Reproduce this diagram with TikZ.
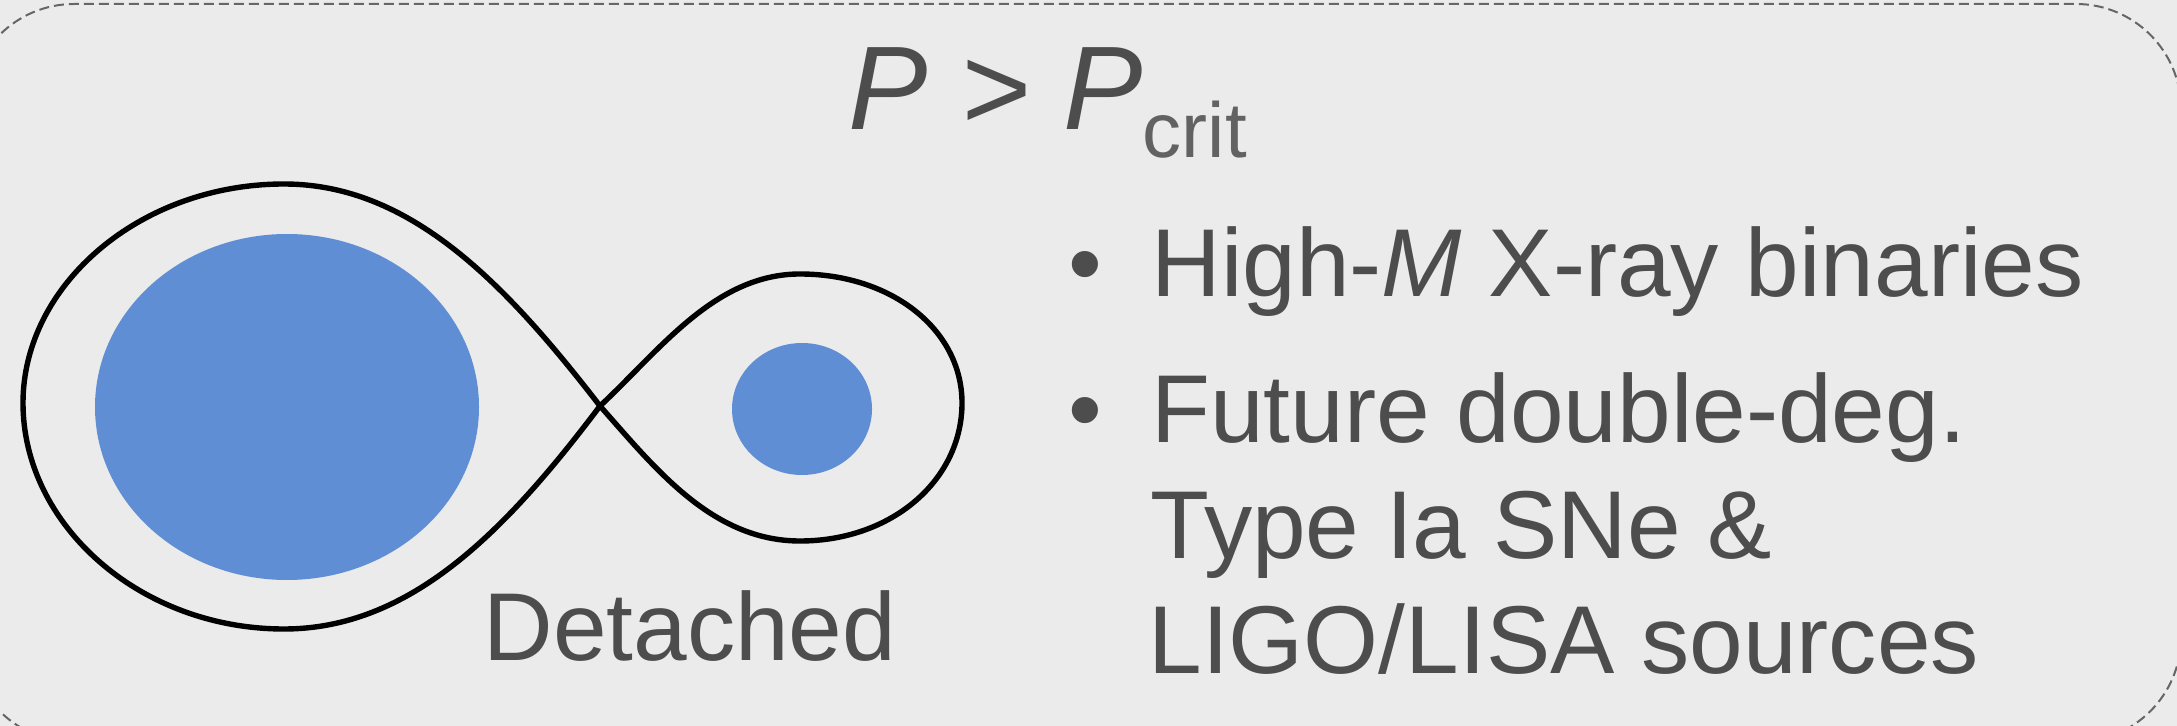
\documentclass[tikz,border=0pt]{standalone}
\usepackage{fontspec}
\setmainfont{Liberation Sans}
\definecolor{panelgray}{HTML}{EBEBEB}
\definecolor{framegray}{HTML}{666666}
\definecolor{inkgray}{HTML}{4D4D4D}
\definecolor{critgray}{HTML}{626262}
\definecolor{starblue}{HTML}{5F8ED5}
\tikzset{
  label text/.style={anchor=base west, inner sep=0pt, text=inkgray,
    font=\fontsize{48.2pt}{58pt}\selectfont},
  lobe/.style={draw=black, line width=2.7pt, line join=round},
  star/.style={fill=starblue, draw=none},
  frame/.style={draw=framegray, line width=1pt, dash pattern=on 5pt off 2.5pt,
    fill=panelgray, rounded corners=52.5pt}
}
\begin{document}
\begin{tikzpicture}[x=0.5pt, y=-0.5pt]
  % page area and background
  \useasboundingbox (0,0) rectangle (2177,726);
  \fill[panelgray] (0,0) rectangle (2177,726);
  \draw[frame] (-31,4) rectangle (2181,742);

  % title
  \node[anchor=base west, inner sep=0pt, text=inkgray] (title) at (848,130)
    {\fontsize{59.5pt}{60pt}\selectfont\itshape P > P\raisebox{-14pt}{\fontsize{39pt}{40pt}\selectfont\upshape\color{critgray}crit}};

  % stars
  \fill[star] (287,407) ellipse [x radius=192, y radius=173];
  \fill[star] (802,409) ellipse [x radius=70, y radius=66];

  % Roche lobes (figure eight through the inner Lagrange point)
  \coordinate (L1) at (600,406);
  \coordinate (lt) at (284,184);
  \coordinate (ll) at (23,403);
  \coordinate (lb) at (284,629);
  \coordinate (rt) at (800,274);
  \coordinate (rr) at (962,403);
  \coordinate (rb) at (800,541);
  \draw[lobe] (L1) .. controls (505,283) and (410,184) .. (lt)
    .. controls (140,184) and (23,285) .. (ll)
    .. controls (23,525) and (140,629) .. (lb)
    .. controls (410,629) and (505,532) .. (L1)
    .. controls (660,350) and (715,274) .. (rt)
    .. controls (892,274) and (962,330) .. (rr)
    .. controls (962,480) and (892,541) .. (rb)
    .. controls (712,541) and (655,468) .. (L1) -- cycle;

  \node[label text] (detached) at (483,660) {Detached};

  % bullet list
  \node[label text] (b1) at (1068,297) {•};
  \node[label text] (item1) at (1151,297) {High-\textit{M} X-ray binaries};
  \node[label text] (b2) at (1068,443) {•};
  \node[label text] (item2a) at (1151,443) {Future double-deg.};
  \node[label text] (item2b) at (1150,558) {Type Ia SNe \&};
  \node[label text] (item2c) at (1148,673) {LIGO/LISA sources};
\end{tikzpicture}
\end{document}
